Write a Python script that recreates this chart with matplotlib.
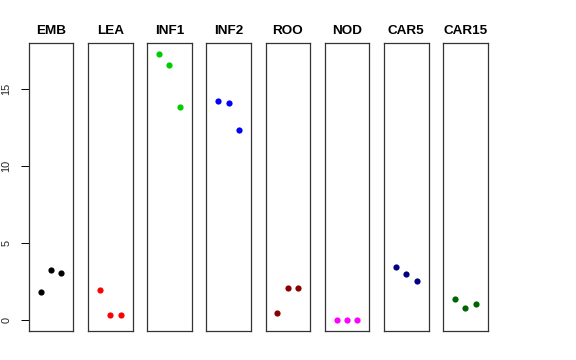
import matplotlib
matplotlib.use("Agg")
import matplotlib.pyplot as plt

plt.rcParams['font.family'] = ['Liberation Sans', 'DejaVu Sans']

# tissues and their three replicate values
tissues = ['EMB', 'LEA', 'INF1', 'INF2', 'ROO', 'NOD', 'CAR5', 'CAR15']
values = [
    [1.84, 3.27, 3.09],
    [1.99, 0.32, 0.32],
    [17.31, 16.60, 13.87],
    [14.24, 14.09, 12.34],
    [0.45, 2.10, 2.10],
    [0.04, 0.02, 0.00],
    [3.48, 3.00, 2.55],
    [1.36, 0.80, 1.06],
]
colors = ['black', '#FF0000', '#00CD00', '#0000FF',
          '#8B0000', '#FF00FF', '#000080', '#006400']
replicates = [1, 2, 3]
yticks = [0, 5, 10, 15]

W, H = 576, 360
fig = plt.figure(figsize=(W / 100, H / 100), dpi=100)

ymin = min(min(v) for v in values)
ymax = max(max(v) for v in values)
ext = 0.04 * (ymax - ymin)

left0, pitch, width = 28.7, 59.2, 44.6
bottom, height = 29, 288

for i, (name, vals, col) in enumerate(zip(tissues, values, colors)):
    ax = fig.add_axes([(left0 + i * pitch) / W, bottom / H, width / W, height / H])
    ax.scatter(replicates, vals, s=20, color=col, linewidths=0, zorder=3)
    ax.set_xlim(-0.16, 4.16)
    ax.set_ylim(ymin - ext, ymax + ext)
    ax.set_xticks([])
    ax.set_title(name, fontsize=9.7, fontweight='bold', pad=6.5)
    for sp in ax.spines.values():
        sp.set_linewidth(0.9)
        sp.set_color('#333333')
    if i == 0:
        ax.set_yticks(yticks)
        ax.set_yticklabels([str(t) for t in yticks], rotation=90, va='center',
                           fontsize=7.8, color='#222222')
        ax.tick_params(axis='y', length=5.5, width=0.7, pad=7)
    else:
        ax.set_yticks([])

fig.savefig('out.png', dpi=100)
